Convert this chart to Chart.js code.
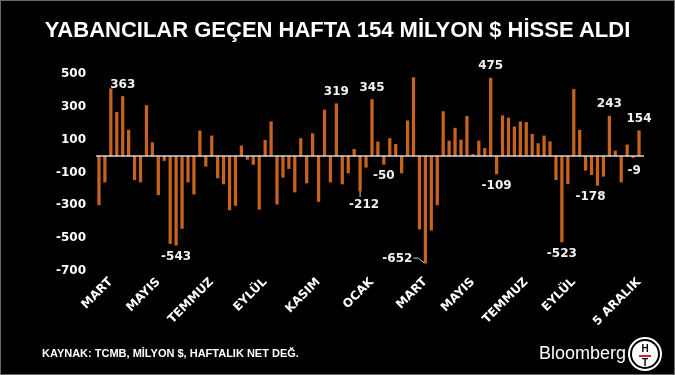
<!DOCTYPE html>
<html>
<head>
<meta charset="utf-8">
<script src="https://cdn.jsdelivr.net/npm/chart.js@4.4.1/dist/chart.umd.min.js"></script>
<style>
    html, body { margin: 0; padding: 0; background: #000; }
    #kutu { position: relative; width: 675px; height: 375px; background: #000; overflow: hidden; }
    #grafik { position: absolute; left: 0; top: 0; }
    .cerceve { position: absolute; left: 0; top: 0; width: 673px; height: 373px; border: 1px solid #6a6a6a; pointer-events: none; }
    .baslik { position: absolute; left: 0; top: 18px; width: 675px; text-align: center; color: #fff;
        font: bold 22px "Liberation Sans", Arial, sans-serif; line-height: 24px; }
    .kaynak { position: absolute; left: 42px; top: 346px; color: #fff;
        font: bold 11px "Liberation Sans", Arial, sans-serif; line-height: 14px; }
    .bloomberg { position: absolute; right: 49px; top: 341px; color: #fff;
        font: 18px "Liberation Sans", Arial, sans-serif; line-height: 24px; }
    .logo { position: absolute; left: 630px; top: 339px; width: 26px; height: 26px; border-radius: 50%;
        background: #fff; border: 2px solid #000; box-shadow: 0 0 0 2px #fff; text-align: center;
        font: bold 10px "Liberation Sans", Arial, sans-serif; color: #000; line-height: 10px; }
    .logo span { display: block; }
    .logo .cizgi { width: 12px; height: 2px; background: #d0202a; margin: 1px auto; }
</style>
</head>
<body>
<div id="kutu">
    <canvas id="grafik" width="675" height="375"></canvas>
    <div class="baslik">YABANCILAR GEÇEN HAFTA 154 MİLYON $ HİSSE ALDI</div>
    <div class="kaynak">KAYNAK: TCMB, MİLYON $, HAFTALIK NET DEĞ.</div>
    <div class="bloomberg">Bloomberg</div>
    <div class="logo"><span style="margin-top:3px">H</span><span class="cizgi"></span><span>T</span></div>
    <div class="cerceve"></div>
</div>
<script>
// haftalık net hisse alımı (milyon $), mart 2013 - 5 aralık 2014
const haftalikNet = [
    -297, -158, 410, 267, 363, 158, -144, -158, 308, 82,
    -236, -27, -533, -543, -441, -158, -232, 154, -62, 123,
    -133, -170, -328, -301, 62, -20, -51, -324, 96, 209,
    -293, -129, -76, -219, 107, -164, 137, -277, 281, -158,
    319, -170, -103, 41, -212, -68, 345, 86, -50, 107,
    72, -103, 215, 478, -445, -652, -451, -297, 271, 92,
    170, 98, 242, 10, 92, 47, 475, -109, 246, 232,
    178, 209, 205, 133, 76, 123, 88, -144, -523, -168,
    406, 158, -86, -113, -178, -123, 243, 31, -158, 68,
    -9, 154
];

// ay etiketleri hangi haftanın altında
const aySirasi = [2, 10, 19, 28, 37, 46, 55, 63, 72, 80, 91];
const ayAdlari = ["MART", "MAYIS", "TEMMUZ", "EYLÜL", "KASIM", "OCAK", "MART", "MAYIS", "TEMMUZ", "EYLÜL", "5 ARALIK"];

// y ekseni
const yEksenMin = -700;
const yEksenMax = 500;
const yEksenAdim = 200;

// üzerine değer yazılan haftalar
const etiketliHaftalar = [4, 13, 40, 44, 46, 48, 55, 66, 67, 78, 84, 86, 90, 91];

const etiketler = haftalikNet.map((v, i) => {
    const k = aySirasi.indexOf(i);
    return k >= 0 ? ayAdlari[k] : "";
});

// etiket kaydırmaları (px)
const kaydirma = { 44: [4, 2], 55: [-28, -16], 84: [-7, 0], 90: [1, 1] };

const degerYazisi = {
    id: 'degerYazisi',
    afterDatasetsDraw(chart) {
        const ctx = chart.ctx;
        const meta = chart.getDatasetMeta(0);
        const area = chart.chartArea;
        const y0 = chart.scales.y.getPixelForValue(0);

        // sıfır çizgisi
        ctx.save();
        ctx.strokeStyle = '#d2d2d2';
        ctx.lineWidth = 1.5;
        ctx.beginPath();
        ctx.moveTo(area.left, y0);
        ctx.lineTo(area.right + 2, y0);
        ctx.stroke();

        ctx.font = 'bold 12px "DejaVu Sans", Verdana, sans-serif';
        ctx.fillStyle = '#f2f2f2';
        ctx.textAlign = 'center';
        ctx.textBaseline = 'middle';
        etiketliHaftalar.forEach(i => {
            const bar = meta.data[i];
            const v = haftalikNet[i];
            const d = kaydirma[i] || [0, 0];
            const y = v >= 0 ? bar.y - 12 : bar.y + 12;
            ctx.fillText(String(v), bar.x + d[0], y + d[1]);
        });

        // küçük bağlantı çizgileri
        ctx.strokeStyle = '#cfcfcf';
        ctx.lineWidth = 1;
        const b1 = meta.data[44];
        ctx.beginPath();
        ctx.moveTo(b1.x, b1.y);
        ctx.lineTo(b1.x, b1.y + 6);
        ctx.stroke();
        const b2 = meta.data[55];
        ctx.beginPath();
        ctx.moveTo(b2.x - 12, b2.y - 5);
        ctx.lineTo(b2.x - 7, b2.y - 5);
        ctx.lineTo(b2.x - 1, b2.y);
        ctx.stroke();
        ctx.restore();
    }
};

document.addEventListener("DOMContentLoaded", () => {
    const ctx = document.getElementById('grafik').getContext('2d');
    window.grafik = new Chart(ctx, {
        type: 'bar',
        data: {
            labels: etiketler,
            datasets: [{
                data: haftalikNet,
                backgroundColor: '#c8621f',
                borderWidth: 0,
                barThickness: 2.6
            }]
        },
        options: {
            responsive: false,
            animation: false,
            devicePixelRatio: 1,
            layout: { padding: { top: 74, right: 33, left: 0, bottom: 0 } },
            plugins: {
                legend: { display: false },
                tooltip: { enabled: false }
            },
            scales: {
                x: {
                    grid: { display: false, drawTicks: false },
                    border: { display: false },
                    afterFit: s => { s.height = 104; },
                    ticks: {
                        autoSkip: false,
                        maxRotation: 45,
                        minRotation: 45,
                        padding: 4,
                        color: '#fff',
                        font: { family: '"DejaVu Sans", Verdana, sans-serif', size: 12, weight: 'bold' }
                    }
                },
                y: {
                    min: yEksenMin,
                    max: yEksenMax,
                    grid: { display: false, drawTicks: false },
                    border: { display: false },
                    afterFit: s => { s.width = 96; },
                    ticks: {
                        stepSize: yEksenAdim,
                        padding: 10,
                        color: '#fff',
                        font: { family: '"DejaVu Sans", Verdana, sans-serif', size: 12, weight: 'bold' }
                    }
                }
            }
        },
        plugins: [degerYazisi]
    });
});
</script>
</body>
</html>
